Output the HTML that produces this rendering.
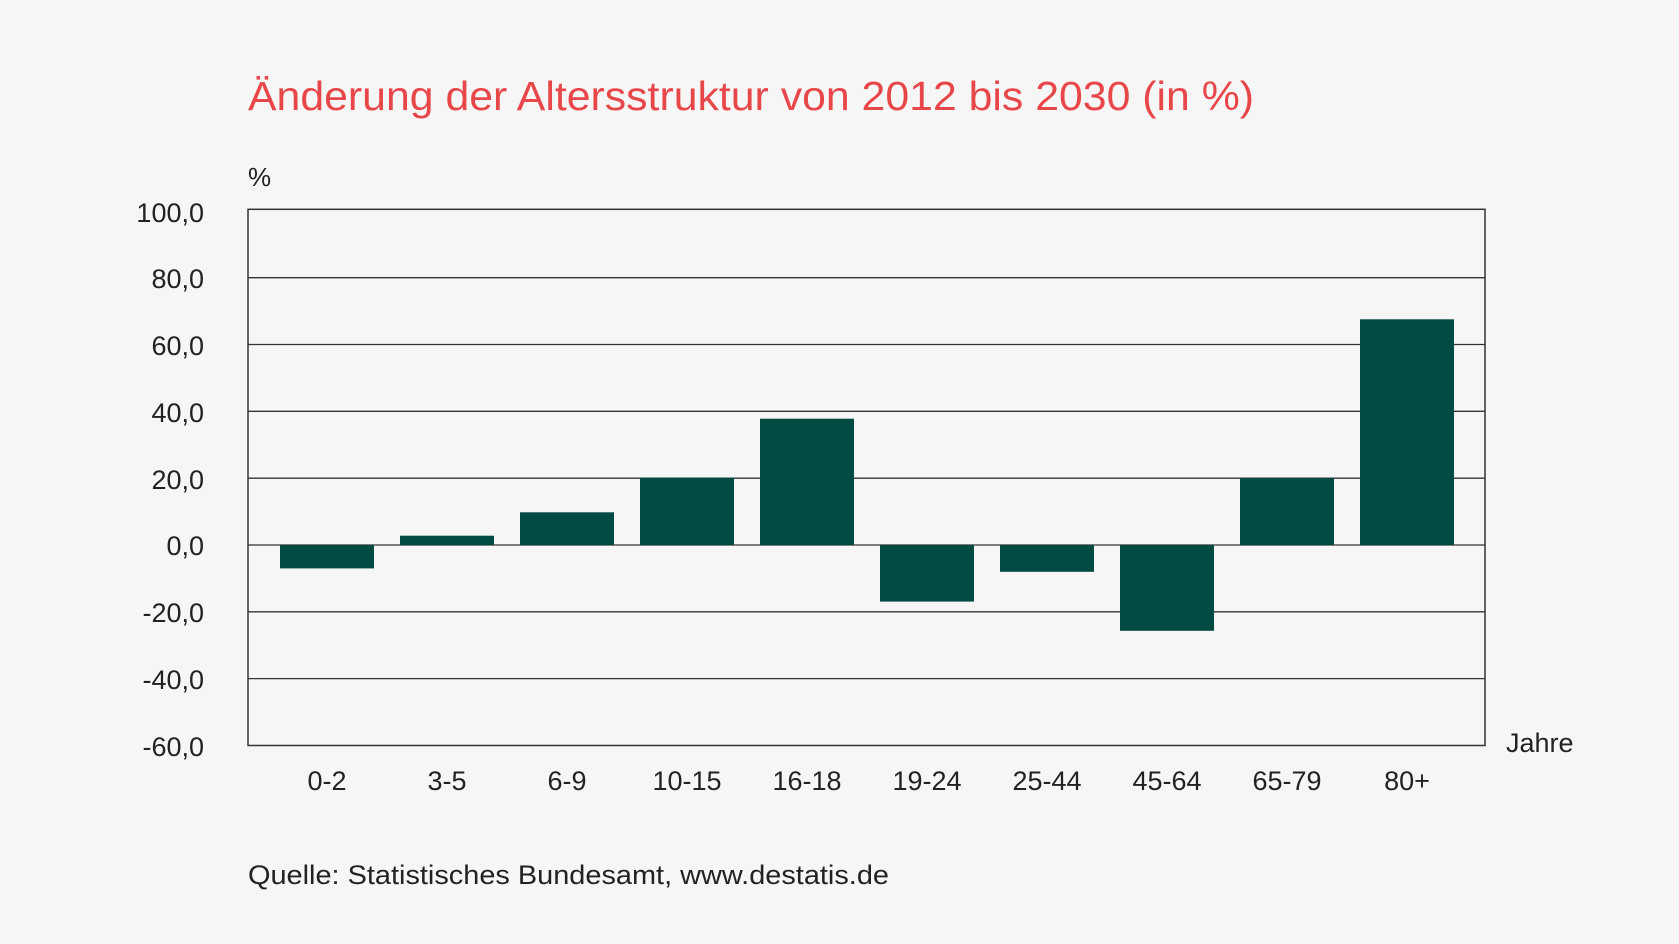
<!DOCTYPE html>
<html><head><meta charset="utf-8"><style>html,body{margin:0;padding:0;background:#f6f6f6}</style></head>
<body>
<svg width="1679" height="939" viewBox="0 0 1679 939" xmlns="http://www.w3.org/2000/svg" font-family="Liberation Sans, sans-serif">
<rect width="1679" height="939" fill="#f6f6f6"/>
<text x="248" y="110" font-size="41" fill="#e8474a" textLength="1006" lengthAdjust="spacingAndGlyphs">Änderung der Altersstruktur von 2012 bis 2030 (in %)</text>
<text x="248" y="186" font-size="26" fill="#222">%</text>
<g stroke="#333" stroke-width="1.3">
<line x1="248" y1="277.7" x2="1485" y2="277.7"/>
<line x1="248" y1="344.5" x2="1485" y2="344.5"/>
<line x1="248" y1="411.3" x2="1485" y2="411.3"/>
<line x1="248" y1="478.2" x2="1485" y2="478.2"/>
<line x1="248" y1="545" x2="1485" y2="545"/>
<line x1="248" y1="611.8" x2="1485" y2="611.8"/>
<line x1="248" y1="678.6" x2="1485" y2="678.6"/>
</g>
<g fill="#034a42">
<rect x="280" y="545" width="94" height="23.4"/>
<rect x="400" y="535.7" width="94" height="9.3"/>
<rect x="520" y="512.3" width="94" height="32.7"/>
<rect x="640" y="477.6" width="94" height="67.4"/>
<rect x="760" y="418.7" width="94" height="126.3"/>
<rect x="880" y="545" width="94" height="56.6"/>
<rect x="1000" y="545" width="94" height="26.8"/>
<rect x="1120" y="545" width="94" height="85.8"/>
<rect x="1240" y="478" width="94" height="67"/>
<rect x="1360" y="319.3" width="94" height="225.7"/>
</g>
<rect x="248" y="209.3" width="1237" height="536.2" fill="none" stroke="#333" stroke-width="1.5"/>
<g font-size="27" fill="#222" text-anchor="end">
<text x="204" y="222">100,0</text>
<text x="204" y="288">80,0</text>
<text x="204" y="355">60,0</text>
<text x="204" y="422">40,0</text>
<text x="204" y="489">20,0</text>
<text x="204" y="555">0,0</text>
<text x="204" y="622">-20,0</text>
<text x="204" y="689">-40,0</text>
<text x="204" y="756">-60,0</text>
</g>
<g font-size="27" fill="#222" text-anchor="middle">
<text x="327" y="790">0-2</text>
<text x="447" y="790">3-5</text>
<text x="567" y="790">6-9</text>
<text x="687" y="790">10-15</text>
<text x="807" y="790">16-18</text>
<text x="927" y="790">19-24</text>
<text x="1047" y="790">25-44</text>
<text x="1167" y="790">45-64</text>
<text x="1287" y="790">65-79</text>
<text x="1407" y="790">80+</text>
</g>
<text x="1506" y="752" font-size="27" fill="#222">Jahre</text>
<text x="248" y="884" font-size="27" fill="#222" textLength="641" lengthAdjust="spacingAndGlyphs">Quelle: Statistisches Bundesamt, www.destatis.de</text>
</svg>
</body></html>
